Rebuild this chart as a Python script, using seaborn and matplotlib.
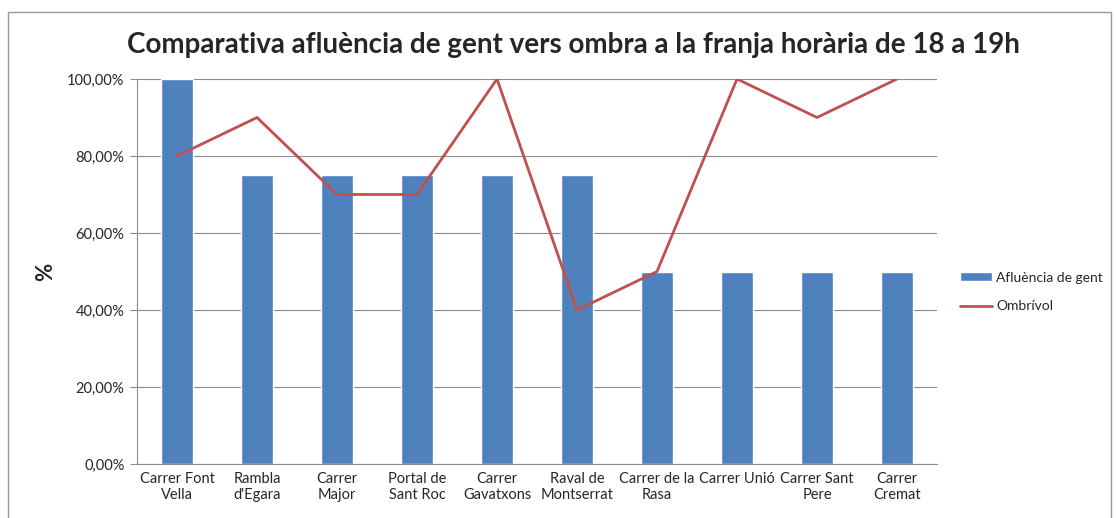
import pandas as pd
import numpy as np
import matplotlib.pyplot as plt
import matplotlib.ticker as mticker
from matplotlib.patches import Rectangle
import seaborn as sns

carrers = ["Carrer Font\nVella", "Rambla\nd'Egara", "Carrer\nMajor", "Portal de\nSant Roc",
           "Carrer\nGavatxons", "Raval de\nMontserrat", "Carrer de la\nRasa", "Carrer Unió",
           "Carrer Sant\nPere", "Carrer\nCremat"]
afluencia = [100, 75, 75, 75, 75, 75, 50, 50, 50, 50]
ombrivol = [80, 90, 70, 70, 100, 40, 50, 100, 90, 100]

df = pd.DataFrame({"carrer": carrers, "afluencia": afluencia,
                   "ombrivol": ombrivol, "pos": np.arange(len(carrers))})

sns.set_style("white")
plt.rcParams['font.family'] = ['Lato', 'DejaVu Sans']

blau = "#4F81BD"
vermell = "#C0504D"
gris = "#8c8c8c"

fig = plt.figure(figsize=(11.16, 5.18), dpi=100)
ax = fig.add_axes([137/1116, 54/518, 800/1116, 385/518])

sns.barplot(data=df, x="carrer", y="afluencia", color=blau, width=0.4,
            saturation=1, ax=ax, label="Afluència de gent", zorder=2)
sns.lineplot(data=df, x="pos", y="ombrivol", color=vermell, linewidth=2,
             ax=ax, label="Ombrívol", zorder=3)

ax.set_xlim(-0.5, len(carrers) - 0.5)
ax.set_ylim(0, 100)
ax.set_yticks(np.arange(0, 101, 20))
ax.yaxis.set_major_formatter(mticker.FuncFormatter(lambda v, p: f"{v:.2f}%".replace('.', ',')))
ax.set_xticks(np.arange(len(carrers)))
ax.set_xticklabels(carrers, fontsize=10.5, va="top", linespacing=1.15)
ax.set_xticks(np.arange(-0.5, len(carrers)), minor=True)
ax.tick_params(axis="x", which="major", length=0, pad=6)
ax.tick_params(axis="x", which="minor", length=5, color=gris, width=0.8)
ax.tick_params(axis="y", length=5, color=gris, width=0.8, labelsize=10.5, left=True, pad=4)
ax.grid(axis="y", color=gris, linewidth=0.8, zorder=0)
ax.set_axisbelow(True)
for s in ["top", "right"]:
    ax.spines[s].set_visible(False)
for s in ["left", "bottom"]:
    ax.spines[s].set_color(gris)
    ax.spines[s].set_linewidth(0.8)

ax.set_xlabel("")
ax.set_ylabel("%", fontsize=16, fontweight="bold", labelpad=8)

fig.suptitle("Comparativa afluència de gent vers ombra a la franja horària de 18 a 19h",
             x=573/1116, y=1 - 45/518, va="center", fontsize=20, fontweight="bold")

ax.get_legend().remove()
h, l = ax.get_legend_handles_labels()
orden = [l.index("Afluència de gent"), l.index("Ombrívol")]
fig.legend([h[i] for i in orden], [l[i] for i in orden], loc="center left",
           bbox_to_anchor=(960/1116, 1 - 292/518), borderaxespad=0, borderpad=0,
           frameon=False, fontsize=10, handlelength=2.3, handleheight=0.6,
           labelspacing=1.2, handletextpad=0.3)

fig.patches.append(Rectangle((8/1116, -0.1), 1103/1116, 1.1 - 12/518,
                             transform=fig.transFigure, fill=False,
                             edgecolor="#9a9a9a", linewidth=1))

fig.savefig("out.png", dpi=100)
